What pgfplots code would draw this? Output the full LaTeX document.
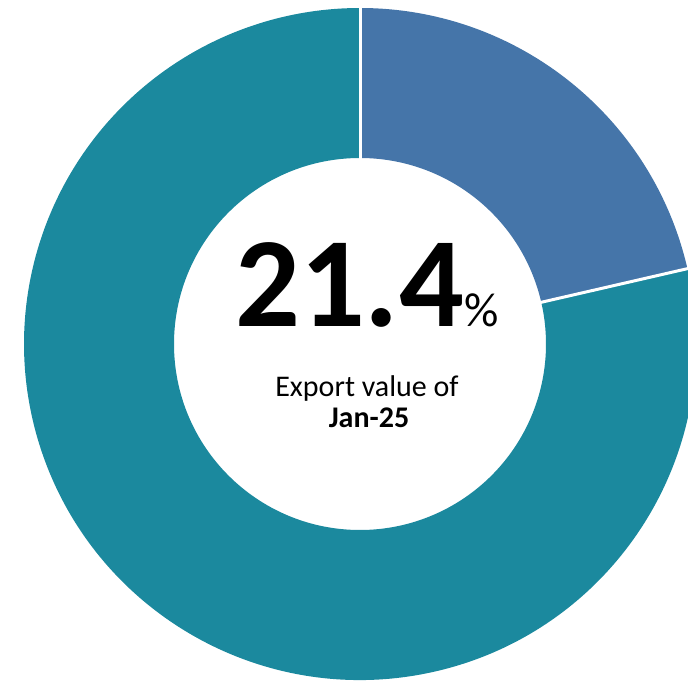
\documentclass[border=0pt]{standalone}
\usepackage{pgfplots}
\usepackage{pgfplotstable}
\pgfplotsset{compat=1.18}
\usepackage{fontspec}
\setmainfont{Carlito}
\definecolor{sliceA}{HTML}{4575A9}
\definecolor{sliceB}{HTML}{1B899E}
\pgfplotstableread{
label value
Jan25 21.4
Rest 78.6
}\slices
\pgfplotstablegetelem{0}{value}\of\slices
\pgfmathsetmacro\aA{90-3.6*\pgfplotsretval}
\begin{document}
\begin{tikzpicture}
\begin{axis}[
  width=688pt, height=681pt, scale only axis,
  xmin=0, xmax=688, ymin=0, ymax=681,
  hide axis, clip=true,
]
\path (rel axis cs:0,0) (rel axis cs:1,1);
% slice A (21.4%)
\fill[sliceA] (axis cs:360,337) ++(90:336pt) arc[start angle=90, end angle=\aA, radius=336pt]
  -- ++(\aA:-150pt) arc[start angle=\aA, end angle=90, radius=186pt] -- cycle;
% slice B (78.6%)
\fill[sliceB] (axis cs:360,337) ++(\aA:336pt) arc[start angle=\aA, end angle=-270, radius=336pt]
  -- ++(90:-150pt) arc[start angle=-270, end angle=\aA, radius=186pt] -- cycle;
% separators
\draw[white, line width=3pt] (axis cs:360,337) ++(90:180pt) -- ++(90:160pt);
\draw[white, line width=3pt] (axis cs:360,337) ++(\aA:180pt) -- ++(\aA:160pt);
\node[anchor=base west, inner sep=0pt] at (axis cs:235,354)
  {{\fontsize{128}{128}\selectfont\bfseries 21.4}{\fontsize{48}{48}\selectfont\%}};
\node[anchor=base, inner sep=0pt] at (axis cs:367,284) {\fontsize{30}{30}\selectfont Export value of};
\node[anchor=base, inner sep=0pt] at (axis cs:369,254) {\fontsize{30}{30}\selectfont\bfseries Jan-25};
\end{axis}
\end{tikzpicture}
\end{document}
